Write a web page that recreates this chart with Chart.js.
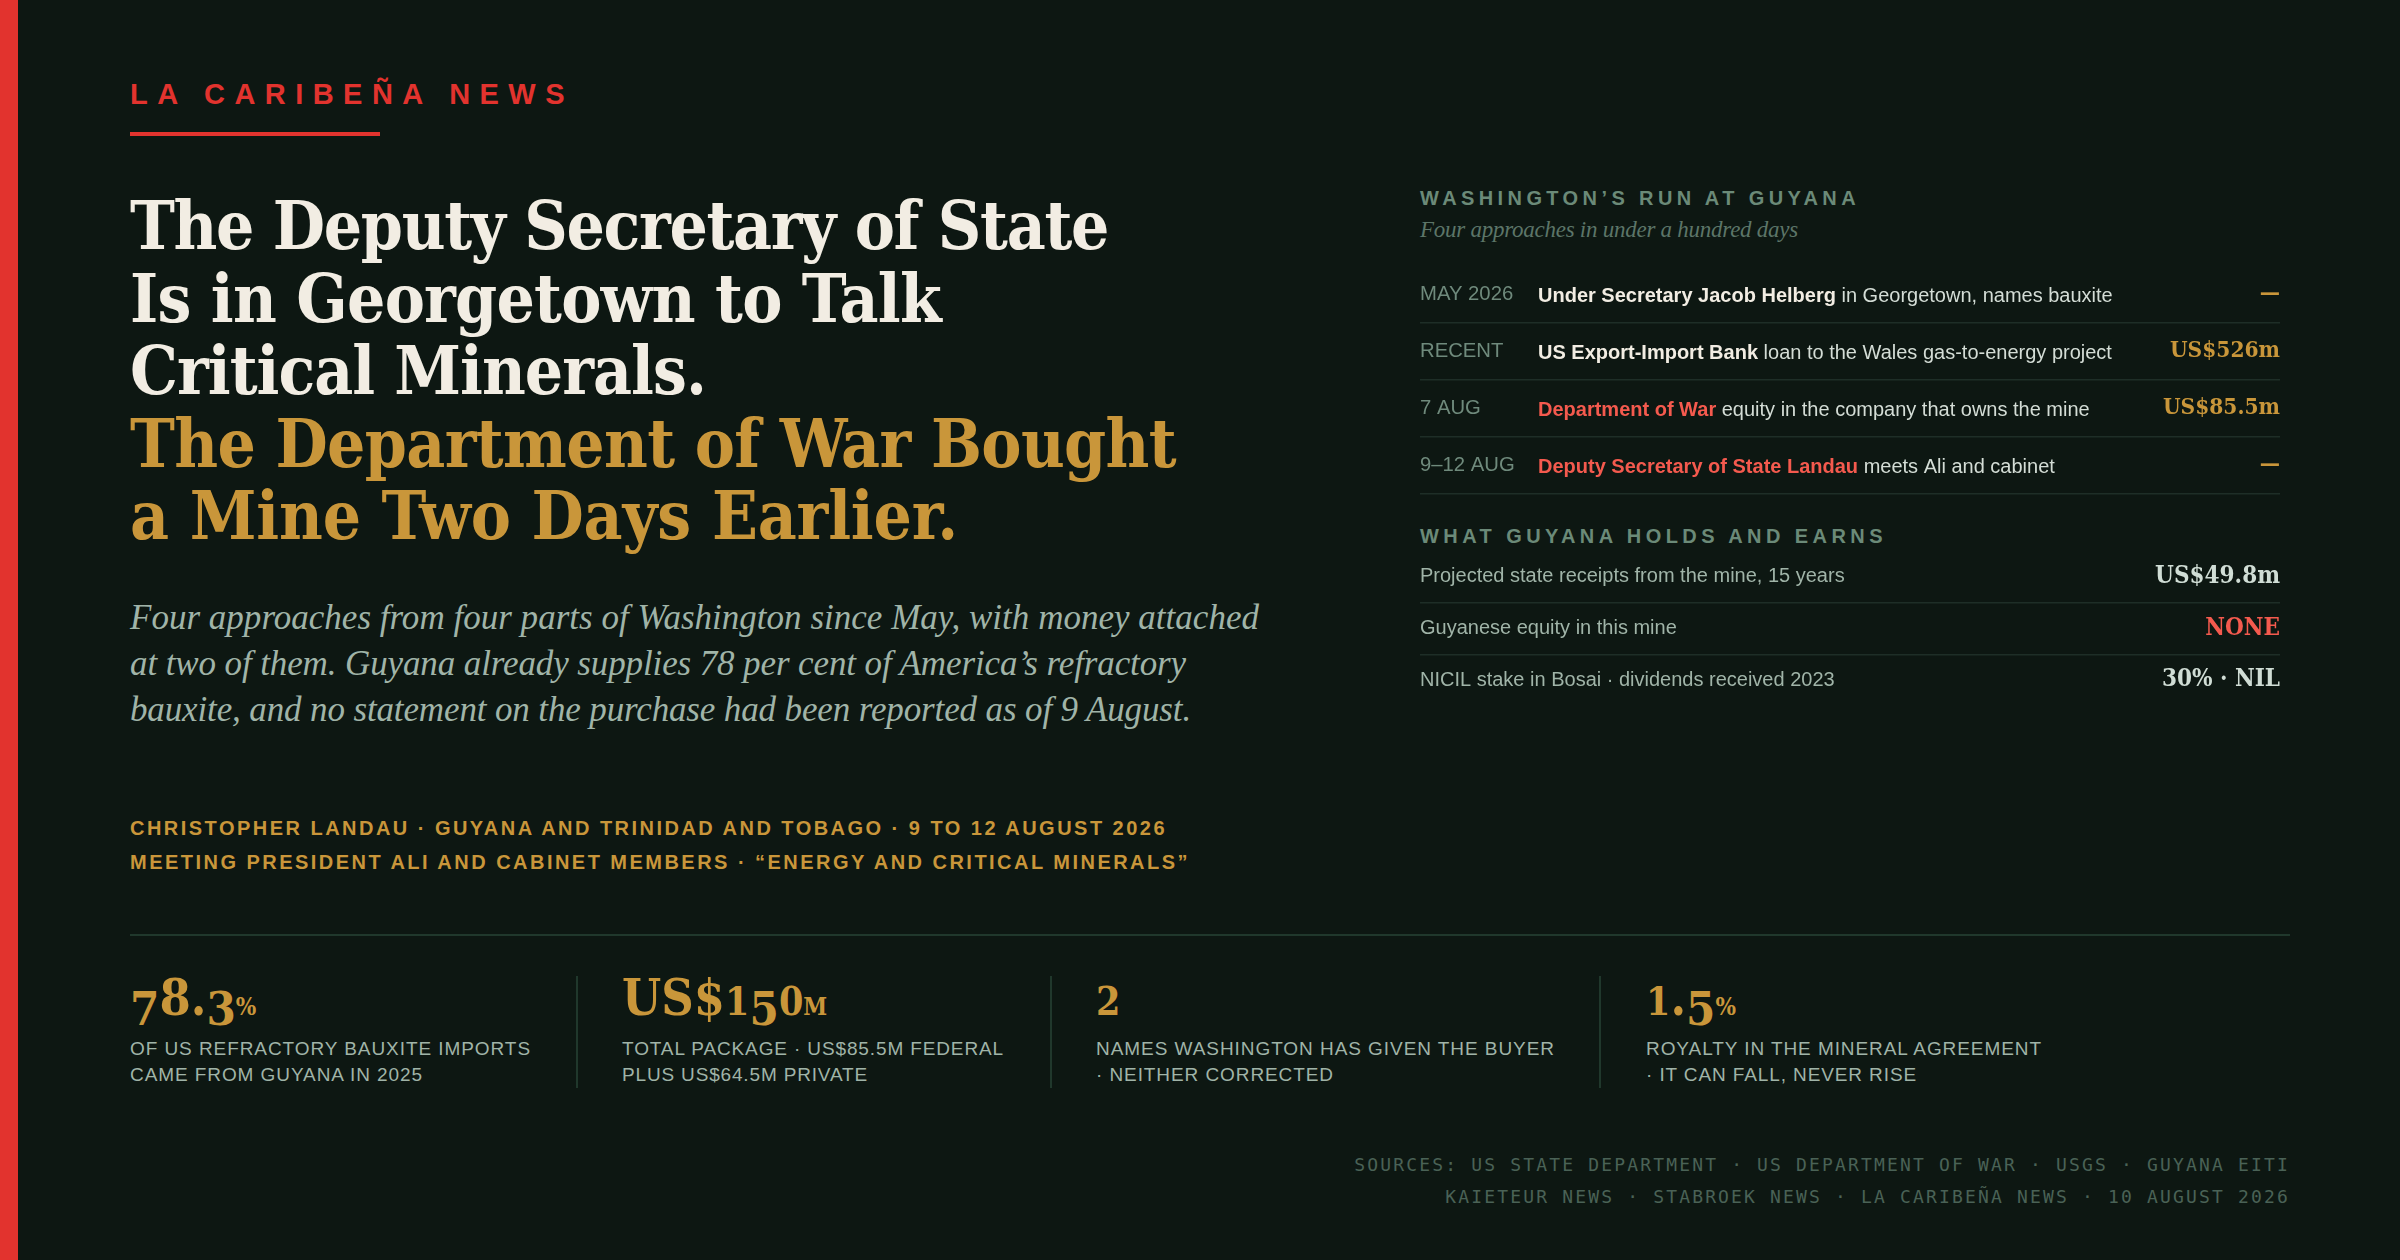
<!DOCTYPE html>
<html><head><meta charset="utf-8">
<script src="https://cdn.jsdelivr.net/npm/chart.js@4"></script>
<style>
html,body{margin:0;padding:0;background:#0d1712;width:2400px;height:1260px;overflow:hidden}
#page{position:absolute;left:0;top:0;width:2400px;height:1260px;background:#0d1712;overflow:hidden}
.t{position:absolute;white-space:pre;margin:0}
.r{position:absolute}
canvas{position:absolute}
.serif{font-family:'DejaVu Serif Condensed','DejaVu Serif',serif;font-stretch:condensed;font-weight:700;line-height:1}
.it{font-family:'Liberation Serif',serif;font-style:italic}
.sans{font-family:'Liberation Sans',Arial,sans-serif}
.b{font-weight:700}
.mono{font-family:'DejaVu Sans Mono',monospace}
</style></head>
<body><div id="page"></div>
<script>
// ---------- data ----------
const brand = "LA CARIBEÑA NEWS";
const headlineWhite = ["The Deputy Secretary of State","Is in Georgetown to Talk","Critical Minerals."];
const headlineGold = ["The Department of War Bought","a Mine Two Days Earlier."];
const deck = ["Four approaches from four parts of Washington since May, with money attached","at two of them. Guyana already supplies 78 per cent of America’s refractory","bauxite, and no statement on the purchase had been reported as of 9 August."];
const meta = ["CHRISTOPHER LANDAU · GUYANA AND TRINIDAD AND TOBAGO · 9 TO 12 AUGUST 2026","MEETING PRESIDENT ALI AND CABINET MEMBERS · “ENERGY AND CRITICAL MINERALS”"];
const runTitle = "WASHINGTON’S RUN AT GUYANA";
const runSubtitle = "Four approaches in under a hundred days";
const runDates = ["MAY 2026","RECENT","7 AUG","9–12 AUG"];
const runLeads = ["Under Secretary Jacob Helberg","US Export-Import Bank","Department of War","Deputy Secretary of State Landau"];
const runRests = [" in Georgetown, names bauxite"," loan to the Wales gas-to-energy project"," equity in the company that owns the mine"," meets Ali and cabinet"];
const runAmountLabels = ["—","US$526m","US$85.5m","—"];
const runAmounts = [null,526,85.5,null];
const holdsTitle = "WHAT GUYANA HOLDS AND EARNS";
const holdsLabels = ["Projected state receipts from the mine, 15 years","Guyanese equity in this mine","NICIL stake in Bosai · dividends received 2023"];
const holdsValueLabels = ["US$49.8m","NONE","30% · NIL"];
const holdsValues = [49.8,0,30];
const statNumbers = ["78.3","US$150","2","1.5"];
const statUnits = ["%","M","","%"];
const statCaptions = [["OF US REFRACTORY BAUXITE IMPORTS","CAME FROM GUYANA IN 2025"],["TOTAL PACKAGE · US$85.5M FEDERAL","PLUS US$64.5M PRIVATE"],["NAMES WASHINGTON HAS GIVEN THE BUYER","· NEITHER CORRECTED"],["ROYALTY IN THE MINERAL AGREEMENT","· IT CAN FALL, NEVER RISE"]];
const sources = ["SOURCES: US STATE DEPARTMENT · US DEPARTMENT OF WAR · USGS · GUYANA EITI","KAIETEUR NEWS · STABROEK NEWS · LA CARIBEÑA NEWS · 10 AUGUST 2026"];

// ---------- palette ----------
const C={red:'#e2332e',cream:'#f2ede3',gold:'#c9963a',coral:'#f45a4e',sage:'#a0b4a8',head:'#6b8a78',sub:'#5c7568',date:'#6f8a7c',body:'#d4ddd6',val:'#d0ddd5',line:'#1e2e27',rule:'#20382c',src:'#4a6256'};

// ---------- page furniture ----------
const page=document.getElementById('page');
function box(x,y,w,h,c){const d=document.createElement('div');d.className='r';d.style.cssText=`left:${x}px;top:${y}px;width:${w}px;height:${h}px;background:${c}`;page.appendChild(d);}
function place(el,x,base,w,right){
  page.appendChild(el);
  el.style.left=x+'px';el.style.top='0px';
  const n=el.textContent.length;
  if(w){const cur=el.getBoundingClientRect().width;el.style.letterSpacing=((w-cur)/n)+'px';}
  const m=document.createElement('span');m.style.cssText='display:inline-block;width:0;height:0';
  el.insertBefore(m,el.firstChild);
  const b=m.getBoundingClientRect().bottom;el.removeChild(m);
  el.style.top=(base-b)+'px';
  if(right){el.style.left=(x-el.getBoundingClientRect().width)+'px';}
  return el;
}
function txt(s,cls,size,color,x,base,w,right){
  const d=document.createElement('div');d.className='t '+cls;d.textContent=s;
  d.style.fontSize=size+'px';d.style.color=color;
  return place(d,x,base,w,right);
}
function oldstyle(d,s){
  for(const ch of s){
    const sp=document.createElement('span');sp.textContent=ch;
    if('012'.includes(ch)){sp.style.fontSize='.78em';}
    else if('34579'.includes(ch)){sp.style.fontSize='.94em';sp.style.position='relative';sp.style.top='.21em';}
    d.appendChild(sp);
  }
}
box(0,0,18,1260,C.red);
txt(brand,'sans b',29,C.red,130,104,444);
box(130,132,250,4,C.red);

const hlW=[978,811,576],hlB=[249,321.5,394];
headlineWhite.forEach((s,i)=>txt(s,'serif',67,C.cream,130,hlB[i],hlW[i]));
const hgW=[1046,828],hgB=[466.5,539];
headlineGold.forEach((s,i)=>txt(s,'serif',67,C.gold,130,hgB[i],hgW[i]));

const dW=[1129,1056,1061],dB=[629,675,721];
deck.forEach((s,i)=>txt(s,'it',35,C.sage,130,dB[i],dW[i]));
const mW=[1037,1060],mB=[835,869];
meta.forEach((s,i)=>txt(s,'sans b',20,C.gold,130,mB[i],mW[i]));

txt(runTitle,'sans b',20,C.head,1420,205,440);
txt(runSubtitle,'it',23,C.sub,1420,237,378);
txt(holdsTitle,'sans b',20,C.head,1420,543,467);

box(130,934,2160,2,C.rule);
[576,1050,1599].forEach(x=>box(x,976,1.5,112,C.rule));
const statX=[130,622,1096,1646];
const capW=[[401,293],[382,246],[459,238],[396,271]];
statNumbers.forEach((s,i)=>{
  const d=document.createElement('div');d.className='t serif';d.style.fontSize='50px';d.style.color=C.gold;
  oldstyle(d,s);
  if(statUnits[i]){const u=document.createElement('span');u.textContent=statUnits[i];u.style.fontSize='24px';d.appendChild(u);}
  place(d,statX[i],1015);
  statCaptions[i].forEach((c,j)=>txt(c,'sans',19,C.sage,statX[i],1055+26*j,capW[i][j]));
});
sources.forEach((s,i)=>{
  const d=txt(s,'mono',18,C.src,2290,1171+32*i,null,true);
  d.style.left='0px';d.style.letterSpacing='2.16px';
  d.style.left=(2290-d.getBoundingClientRect().width)+'px';
});

// ---------- charts ----------
Chart.defaults.font.family="'Liberation Sans',Arial,sans-serif";
const valFont="'DejaVu Serif Condensed','DejaVu Serif',serif";
const midLabels={id:'midLabels',afterDraw(ch){
  const o=ch.options.plugins.midLabels; if(!o||!o.leads)return;
  const c=ch.ctx,y=ch.scales.y;c.save();c.textBaseline='middle';c.textAlign='left';
  o.leads.forEach((s,i)=>{
    const py=y.getPixelForValue(i)+2; let px=ch.chartArea.left+o.inset;
    c.font="700 20px 'Liberation Sans'";c.fillStyle=o.colors[i];c.fillText(s,px,py);
    px+=c.measureText(s).width;
    c.font="400 20px 'Liberation Sans'";c.fillStyle=C.body;c.fillText(o.rests[i],px,py);
  });c.restore();
}};
const noPad=s=>{s.paddingTop=0;s.paddingBottom=0;};
function tableChart(id,x,y,w,h,labels,valueLabels,values,leftStyle,valStyle,valSize,lastLine,midOpts){
  const cv=document.createElement('canvas');cv.id=id;cv.style.cssText=`left:${x}px;top:${y}px;width:${w}px;height:${h}px`;
  cv.width=w;cv.height=h;page.appendChild(cv);
  return new Chart(cv,{type:'bar',plugins:[midLabels],data:{labels,datasets:[{data:values,backgroundColor:'transparent',borderWidth:0,yAxisID:'y',xAxisID:'x'}]},
   options:{indexAxis:'y',responsive:false,animation:false,devicePixelRatio:1,layout:{padding:{bottom:1}},
    plugins:{legend:{display:false},tooltip:{enabled:false},midLabels:midOpts||{}},
    scales:{
     x:{display:false},
     y:{type:'category',position:'left',offset:true,border:{display:false},afterFit:noPad,
        grid:{offset:true,drawTicks:false,lineWidth:1.5,color:ctx=>{
          if(ctx.index===undefined)return lastLine?C.line:'transparent';
          return ctx.index===0?'transparent':C.line;}},
        ticks:{mirror:true,padding:0,crossAlign:'near',autoSkip:false,color:leftStyle.color,font:{size:leftStyle.size}}},
     y2:{type:'category',labels:valueLabels,position:'right',offset:true,border:{display:false},afterFit:noPad,
        grid:{display:false,drawTicks:false},
        ticks:{mirror:true,padding:0,crossAlign:'near',autoSkip:false,color:valStyle,font:{family:valFont,size:valSize,weight:'700'}}}
    }}});
}
tableChart('runChart',1420,266,860,229,runDates,runAmountLabels,runAmounts,{color:C.date,size:20.3},C.gold,22.5,true,
  {leads:runLeads,rests:runRests,inset:118,colors:[C.cream,C.cream,C.coral,C.coral]});
tableChart('holdsChart',1420,551,860,156,holdsLabels,holdsValueLabels,holdsValues,{color:C.sage,size:20},
  ctx=>ctx.index===1?C.coral:C.val,24,false,null);
</script></body></html>
